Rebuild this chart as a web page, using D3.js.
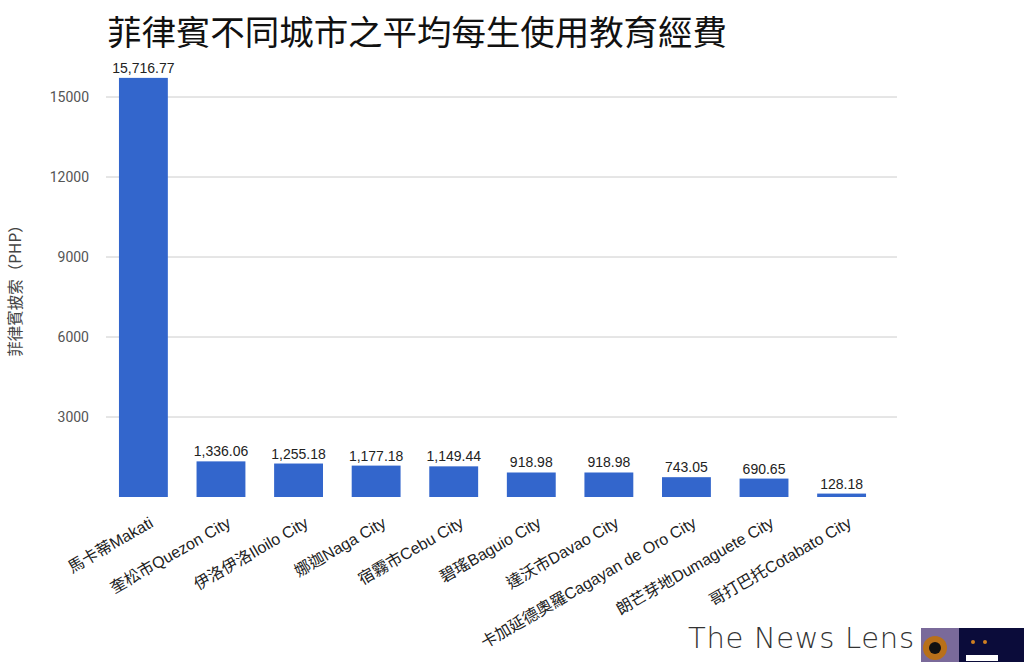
<!DOCTYPE html>
<html><head><meta charset="utf-8">
<script src="https://cdn.jsdelivr.net/npm/d3@7"></script>
<style>body{margin:0;background:#fff;}svg{display:block;}</style>
</head><body>
<script>
const title = "菲律賓不同城市之平均每生使用教育經費";
const yAxisLabel = "菲律賓披索（PHP）";
const categories = ["馬卡蒂Makati","奎松市Quezon City","伊洛伊洛Iloilo City","娜迦Naga City","宿霧市Cebu City","碧瑤Baguio City","達沃市Davao City","卡加延德奧羅Cagayan de Oro City","朗芒芽地Dumaguete City","哥打巴托Cotabato City"];
const values = [15716.77,1336.06,1255.18,1177.18,1149.44,918.98,918.98,743.05,690.65,128.18];
const valueLabels = ["15,716.77","1,336.06","1,255.18","1,177.18","1,149.44","918.98","918.98","743.05","690.65","128.18"];
const yTicks = [3000,6000,9000,12000,15000];

const W=1024,H=662;
const svg=d3.select("body").append("svg").attr("width",W).attr("height",H);
const x=d3.scaleBand().domain(categories).range([105,880]).paddingInner(0.37).paddingOuter(0.18);
const y=d3.scaleLinear().domain([0,3000]).range([497,417]);

svg.append("text").attr("x",107).attr("y",45).attr("font-family","'Noto Sans CJK TC',sans-serif")
  .attr("font-size",34.5).attr("font-weight",400).attr("fill","#111").attr("textLength",620).text(title);

const grid=svg.append("g");
yTicks.forEach(t=>{
  grid.append("line").attr("x1",106).attr("x2",897).attr("y1",y(t)).attr("y2",y(t)).attr("stroke","#ccc").attr("stroke-width",1);
});
const yAxis=d3.axisLeft(y).tickValues(yTicks).tickFormat(d3.format("d")).tickSize(0).tickPadding(0);
const ga=svg.append("g").attr("transform","translate(89,0)").call(yAxis);
ga.select(".domain").remove();
ga.selectAll("text").attr("font-family","Roboto,'Liberation Sans',sans-serif").attr("font-size",14).attr("fill","#555");

svg.append("text").attr("transform","translate(21,287) rotate(-90)").attr("text-anchor","middle")
  .attr("font-family","'Noto Sans CJK TC',sans-serif").attr("font-size",15.5).attr("fill","#444").text(yAxisLabel);

svg.selectAll("rect.bar").data(values).enter().append("rect").attr("class","bar")
  .attr("x",(d,i)=>x(categories[i])).attr("width",x.bandwidth())
  .attr("y",d=>y(d)).attr("height",d=>y(0)-y(d)).attr("fill","#3366cc");

svg.selectAll("text.val").data(values).enter().append("text").attr("class","val")
  .attr("x",(d,i)=>x(categories[i])+x.bandwidth()/2).attr("y",d=>y(d)-5)
  .attr("text-anchor","middle").attr("font-family","'Liberation Sans Narrow','Liberation Sans',sans-serif")
  .attr("font-size",14).attr("fill","#222").text((d,i)=>valueLabels[i]);

svg.selectAll("text.cat").data(categories).enter().append("text").attr("class","cat")
  .attr("transform",d=>`translate(${x(d)+x.bandwidth()/2+11},${526}) rotate(-30)`)
  .attr("text-anchor","end").attr("font-family","'Liberation Sans','Noto Sans CJK TC',sans-serif")
  .attr("font-size",16).attr("fill","#222").text(d=>d);

// logo
svg.append("text").attr("x",688).attr("y",648).attr("font-family","'DejaVu Sans',sans-serif").attr("font-weight",300)
  .attr("font-size",29).attr("fill","#333").attr("textLength",226).text("The News Lens");
const lg=svg.append("g");
lg.append("rect").attr("x",921).attr("y",628).attr("width",103).attr("height",34).attr("fill","#0b0c3a");
lg.append("rect").attr("x",921).attr("y",628).attr("width",38).attr("height",34).attr("fill","#7a6a9a");
lg.append("circle").attr("cx",935).attr("cy",648).attr("r",12).attr("fill","#b8701a");
lg.append("circle").attr("cx",935).attr("cy",648).attr("r",6).attr("fill","#111");
lg.append("circle").attr("cx",973).attr("cy",642).attr("r",2).attr("fill","#d08020");
lg.append("circle").attr("cx",985).attr("cy",642).attr("r",2).attr("fill","#d08020");
lg.append("rect").attr("x",966).attr("y",655).attr("width",32).attr("height",6).attr("fill","#fff");
</script>
</body></html>
